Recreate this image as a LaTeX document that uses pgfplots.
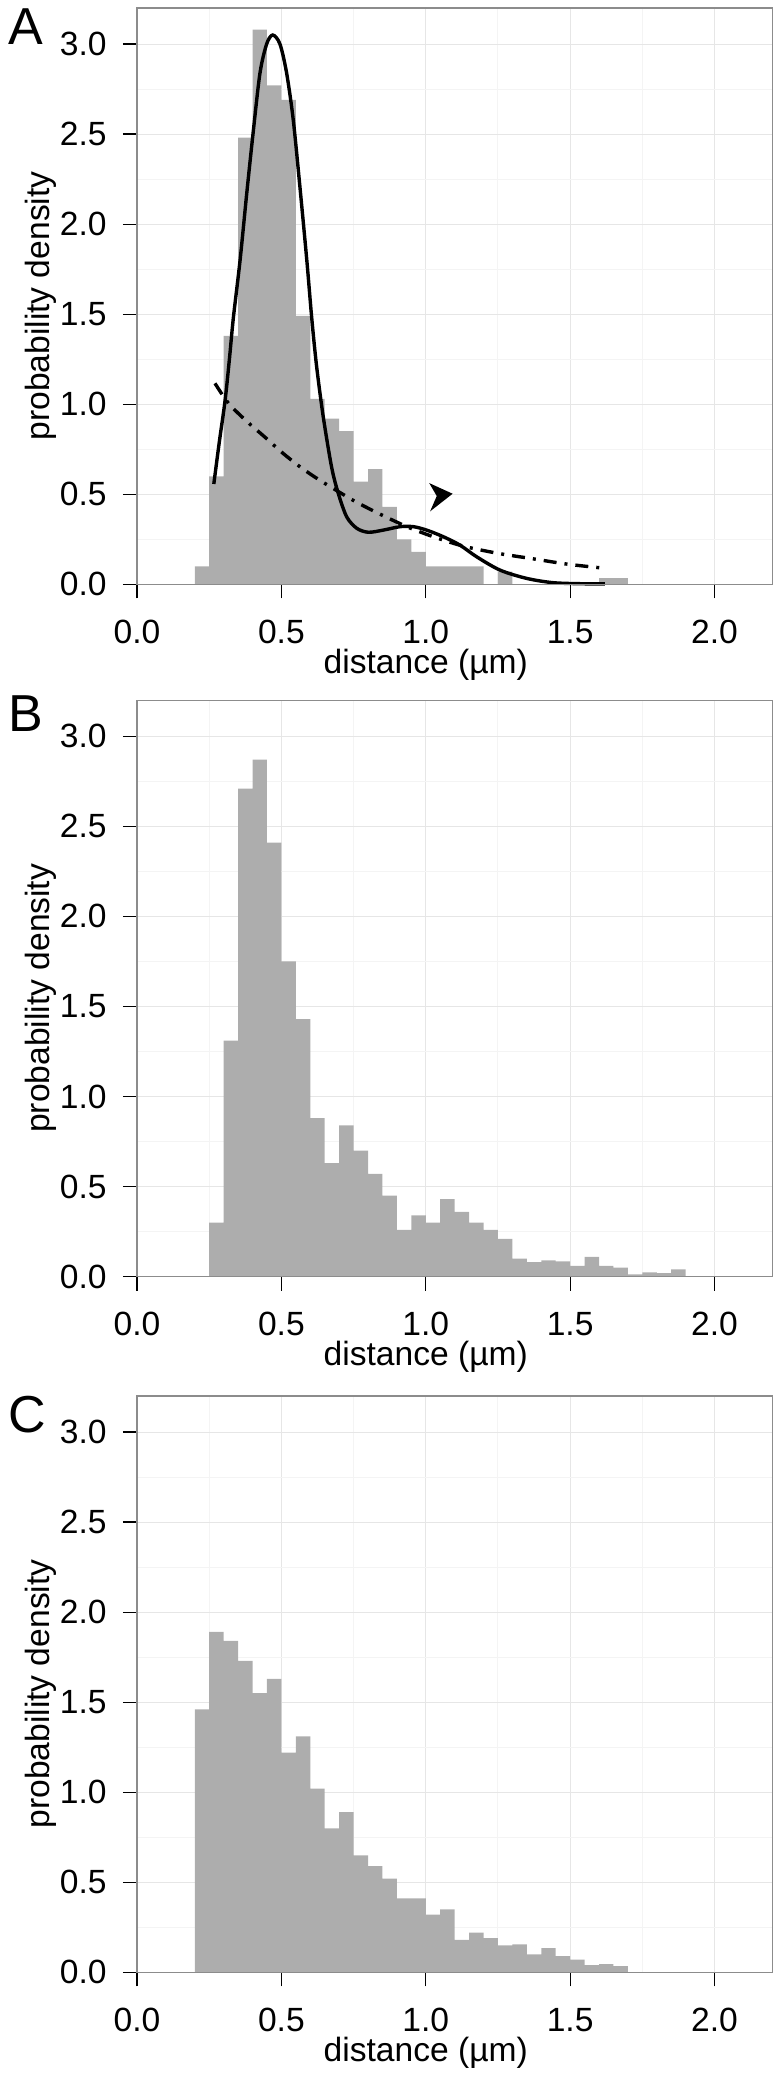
\documentclass[border=0pt]{standalone}
\usepackage{fontspec}
\setmainfont{Liberation Sans}
\usepackage{pgfplots}
\pgfplotsset{compat=1.18}

\definecolor{bargray}{RGB}{173,173,173}
\definecolor{boxgray}{RGB}{140,140,140}
\definecolor{gridmaj}{RGB}{230,230,230}
\definecolor{gridmin}{RGB}{244,244,244}

% one panel of the figure; 1px of the reference = 0.5pt
\pgfplotsset{
  panel/.style={
    scale only axis, width=317.65pt, height=288.15pt,
    xmin=0, xmax=2.2, ymin=0, ymax=3.2,
    clip=false,
    axis line style={draw=boxgray, line width=0.6pt},
    xtick={0,0.5,1,1.5,2}, ytick={0,0.5,1,1.5,2,2.5,3},
    minor xtick={0.25,0.75,1.25,1.75},
    minor ytick={0.25,0.75,1.25,1.75,2.25,2.75},
    grid=both,
    major grid style={draw=gridmaj, line width=0.5pt},
    minor grid style={draw=gridmin, line width=0.5pt},
    tick align=outside, tick pos=left,
    major tick length=7pt, minor tick length=0pt,
    major tick style={draw=black, line width=0.6pt},
    tick label style={font=\fontsize{16.8}{20}\selectfont, inner sep=0pt},
    /pgf/number format/fixed,
    /pgf/number format/fixed zerofill,
    /pgf/number format/precision=1,
    /pgf/number format/assume math mode=true,
    xticklabel style={anchor=north, yshift=-10.6pt},
    yticklabel style={anchor=east, xshift=-8pt},
    label style={font=\fontsize{16.8}{20}\selectfont, inner sep=0pt},
    xlabel={distance (µm)},
    ylabel={probability density},
    xlabel style={at={(axis description cs:0.4545,-0.1539)}, anchor=base},
    ylabel style={at={(axis description cs:-0.1385,0.483)}, anchor=base},
  },
  hist/.style={ybar interval, fill=bargray, draw=none},
}

\begin{document}
\begin{tikzpicture}
\path[use as bounding box] (0,0) rectangle (391.5pt,-1038.5pt);

% ---------- A ----------
\node[font=\fontsize{26}{30}\selectfont, anchor=base west, inner sep=0pt] at (4pt,-22.2pt) {A};
\begin{axis}[panel, at={(68.5pt,-292.15pt)}, anchor=south west]
  \addplot[hist] coordinates {
    (0.20,0.10) (0.25,0.60) (0.30,1.38) (0.35,2.48) (0.40,3.08)
    (0.45,2.77) (0.50,2.69) (0.55,1.49) (0.60,1.03) (0.65,0.92)
    (0.70,0.85) (0.75,0.57) (0.80,0.64) (0.85,0.43) (0.90,0.25)
    (0.95,0.18) (1.00,0.10) (1.05,0.10) (1.10,0.10) (1.15,0.10)
    (1.20,0) (1.25,0.07) (1.30,0) (1.35,0) (1.40,0) (1.45,0)
    (1.50,0) (1.55,0) (1.60,0.035) (1.65,0.035) (1.70,0)
  };
  % fitted mixture
  \addplot[black, line width=1.7pt, smooth] coordinates {
    (0.266,0.557) (0.285,0.79) (0.305,1.02) (0.320,1.25) (0.3335,1.477)
    (0.357,1.80) (0.380,2.17) (0.403,2.52) (0.426,2.84) (0.449,3.00)
    (0.470,3.05) (0.495,3.00) (0.518,2.84) (0.541,2.58) (0.564,2.21)
    (0.588,1.80) (0.605,1.48) (0.622,1.21) (0.645,0.93) (0.674,0.65)
    (0.697,0.505) (0.726,0.375) (0.761,0.311) (0.801,0.289) (0.853,0.301)
    (0.911,0.320) (0.957,0.320) (1.003,0.301) (1.061,0.264) (1.118,0.218)
    (1.176,0.153) (1.257,0.079) (1.349,0.033) (1.441,0.009) (1.545,0.003)
    (1.620,0.002)
  };
  % single-component fit
  \addplot[black, line width=1.7pt, smooth, dash pattern=on 6.5pt off 4pt on 1.5pt off 4pt] coordinates {
    (0.270,1.116) (0.317,1.005) (0.380,0.905) (0.441,0.82) (0.500,0.735)
    (0.564,0.653) (0.626,0.585) (0.688,0.524) (0.750,0.465) (0.812,0.413)
    (0.880,0.360) (0.948,0.311) (1.030,0.262) (1.130,0.212) (1.250,0.172)
    (1.370,0.142) (1.490,0.112) (1.620,0.089)
  };
  % arrowhead
  \addplot[fill=black, draw=none] coordinates {
    (1.093,0.503) (1.012,0.562) (1.038,0.490) (1.015,0.405)
  } -- cycle;
  \draw[boxgray, line width=0.6pt] (rel axis cs:0,0) rectangle (rel axis cs:1,1);
\end{axis}

% ---------- B ----------
\node[font=\fontsize{26}{30}\selectfont, anchor=base west, inner sep=0pt] at (4pt,-365.85pt) {B};
\begin{axis}[panel, at={(68.5pt,-638.3pt)}, anchor=south west]
  \addplot[hist] coordinates {
    (0.25,0.30) (0.30,1.31) (0.35,2.71) (0.40,2.87) (0.45,2.41)
    (0.50,1.75) (0.55,1.43) (0.60,0.88) (0.65,0.63) (0.70,0.84)
    (0.75,0.70) (0.80,0.57) (0.85,0.45) (0.90,0.26) (0.95,0.34)
    (1.00,0.30) (1.05,0.43) (1.10,0.36) (1.15,0.30) (1.20,0.26)
    (1.25,0.21) (1.30,0.10) (1.35,0.08) (1.40,0.09) (1.45,0.085)
    (1.50,0.06) (1.55,0.11) (1.60,0.06) (1.65,0.05) (1.70,0.012)
    (1.75,0.024) (1.80,0.02) (1.85,0.04) (1.90,0)
  };
  \draw[boxgray, line width=0.6pt] (rel axis cs:0,0) rectangle (rel axis cs:1,1);
\end{axis}

% ---------- C ----------
\node[font=\fontsize{26}{30}\selectfont, anchor=base west, inner sep=0pt] at (4pt,-716.2pt) {C};
\begin{axis}[panel, at={(68.5pt,-986.15pt)}, anchor=south west]
  \addplot[hist] coordinates {
    (0.20,1.46) (0.25,1.89) (0.30,1.84) (0.35,1.73) (0.40,1.55)
    (0.45,1.63) (0.50,1.22) (0.55,1.31) (0.60,1.02) (0.65,0.80)
    (0.70,0.89) (0.75,0.65) (0.80,0.59) (0.85,0.52) (0.90,0.41)
    (0.95,0.41) (1.00,0.32) (1.05,0.35) (1.10,0.18) (1.15,0.22)
    (1.20,0.19) (1.25,0.15) (1.30,0.155) (1.35,0.10) (1.40,0.135)
    (1.45,0.09) (1.50,0.07) (1.55,0.04) (1.60,0.045) (1.65,0.035)
    (1.70,0)
  };
  \draw[boxgray, line width=0.6pt] (rel axis cs:0,0) rectangle (rel axis cs:1,1);
\end{axis}
\end{tikzpicture}
\end{document}
